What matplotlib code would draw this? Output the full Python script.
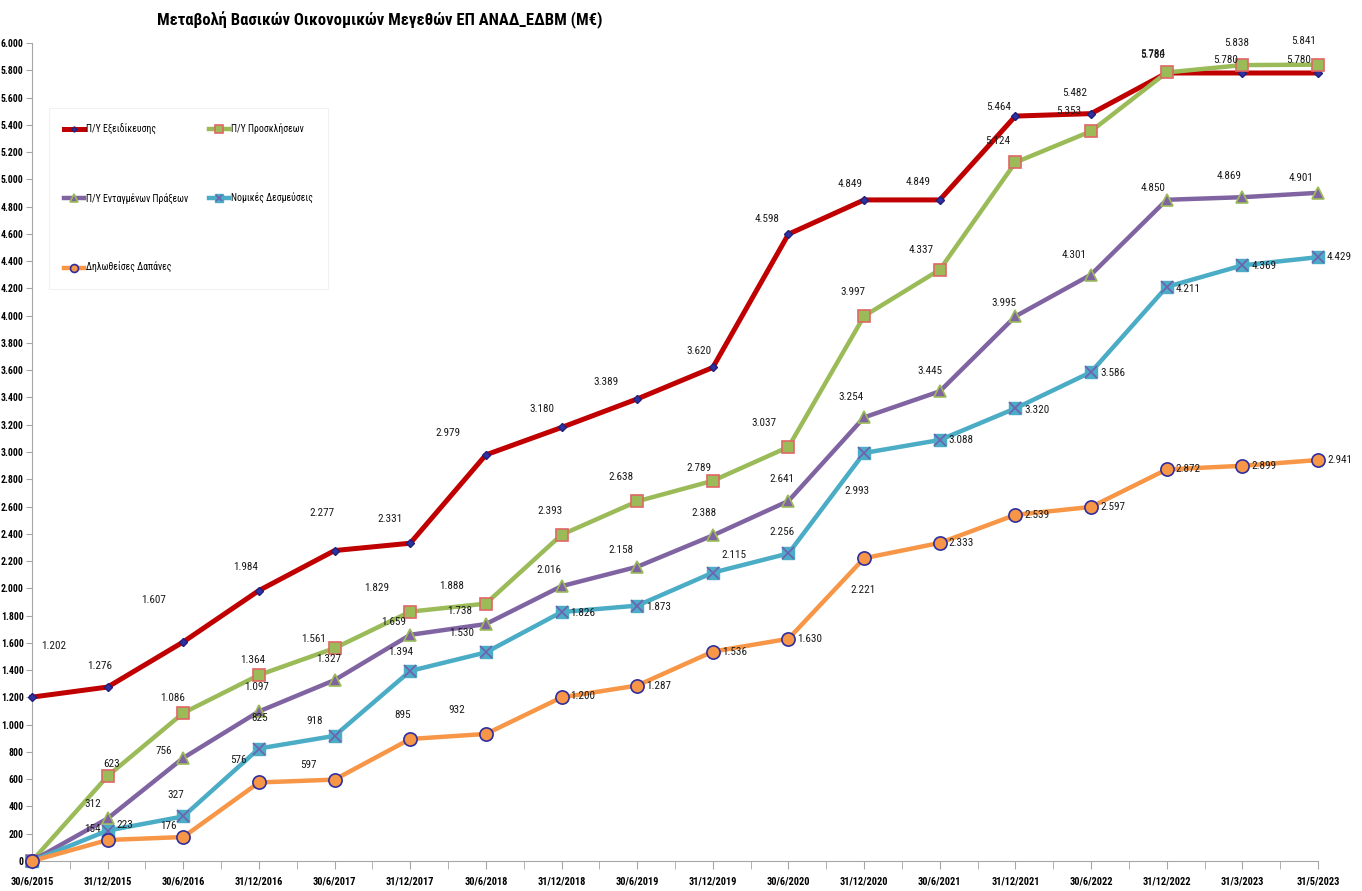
import numpy as np
import matplotlib
matplotlib.use("Agg")
from matplotlib import pyplot as plt
from matplotlib import font_manager
from matplotlib.ticker import FuncFormatter, MultipleLocator

dates = ['30/6/2015', '31/12/2015', '30/6/2016', '31/12/2016', '30/6/2017', '31/12/2017',
         '30/6/2018', '31/12/2018', '30/6/2019', '31/12/2019', '30/6/2020', '31/12/2020',
         '30/6/2021', '31/12/2021', '30/6/2022', '31/12/2022', '31/3/2023', '31/5/2023']

budget_spec = [1202, 1276, 1607, 1984, 2277, 2331, 2979, 3180, 3389, 3620, 4598, 4849,
               4849, 5464, 5482, 5780, 5780, 5780]
budget_calls = [0, 623, 1086, 1364, 1561, 1829, 1888, 2393, 2638, 2789, 3037, 3997,
                4337, 5124, 5353, 5784, 5838, 5841]
budget_ops = [0, 312, 756, 1097, 1327, 1659, 1738, 2016, 2158, 2388, 2641, 3254,
              3445, 3995, 4301, 4850, 4869, 4901]
commitments = [0, 223, 327, 825, 918, 1394, 1530, 1826, 1873, 2115, 2256, 2993,
               3088, 3320, 3586, 4211, 4369, 4429]
expenses = [0, 154, 176, 576, 597, 895, 932, 1200, 1287, 1536, 1630, 2221,
            2333, 2539, 2597, 2872, 2899, 2941]

names = ['Π/Υ Εξειδίκευσης', 'Π/Υ Προσκλήσεων', 'Π/Υ Ενταγμένων Πράξεων',
         'Νομικές Δεσμεύσεις', 'Δηλωθείσες Δαπάνες']

# label offsets in pixels (dx, dy up) - hand placed like the excel chart
offsets = {
    0: [(15, 51), (-8, 21), (-30, 42), (-13, 24), (-13, 38), (-20, 24), (-38, 22), (-20, 18),
        (-31, 17), (-14, 16), (-21, 15), (-14, 16), (-22, 18), (-17, 9), (-16, 21), (-14, 18),
        (-17, 13), (-19, 13)],
    1: [None, (4, 12), (-11, 15), (-6, 15), (-21, 9), (-34, 24), (-34, 18), (-11, 24),
        (-16, 24), (-14, 13), (-24, 24), (-11, 24), (-19, 20), (-18, 21), (-22, 20), (-14, 18),
        (-6, 22), (-14, 24)],
    2: [None, (-15, 14), (-20, 7), (-2, 24), (-6, 21), (-17, 13), (-26, 13), (-13, 16),
        (-16, 17), (-9, 22), (-7, 22), (-13, 20), (-10, 20), (-11, 13), (-17, 20), (-14, 12),
        (-13, 21), (-17, 15)],
    3: [None, (15, 6), (-7, 21), (1, 31), (-20, 15), (-10, 19), (-24, 19), (16, -1),
        (17, -1), (18, 18), (-6, 21), (-7, -38), (18, 0), (18, -2), (17, -1), (18, -2),
        (18, -1), (18, 0)],
    4: [None, (-15, 11), (-15, 11), (-21, 22), (-26, 15), (-8, 24), (-29, 24), (16, 1),
        (17, 0), (18, 0), (18, 0), (-1, -32), (18, 0), (18, 0), (17, 0), (18, 0),
        (18, 0), (18, 0)],
}

available = {f.name for f in font_manager.fontManager.ttflist}
narrow = 'DejaVu Sans'
for cand in ['Liberation Sans Narrow', 'Roboto Condensed', 'Open Sans Condensed', 'Liberation Sans']:
    if cand in available:
        narrow = cand
        break
plt.rcParams['font.family'] = [narrow, 'DejaVu Sans']


def fmt(v):
    return f"{int(v):,}".replace(",", ".")


fig = plt.figure(figsize=(13.62, 8.91), dpi=100)
ax = fig.add_axes([32 / 1362, 1 - 861 / 891, 1286 / 1362, 818 / 891])

x = np.arange(len(dates))

h_red, = ax.plot(x, budget_spec, color='#C00000', lw=3.6, marker='D', ms=4.5,
                 mfc='#3030A0', mec='#20207A', mew=1, clip_on=False, zorder=3)
h_green, = ax.plot(x, budget_calls, color='#9BBB59', lw=3.2, marker='s', ms=9,
                   mfc='#9BBB59', mec='#E06666', mew=1.2, clip_on=False, zorder=4)
h_purple, = ax.plot(x, budget_ops, color='#8064A2', lw=3.2, marker='^', ms=8.5,
                    mfc='#8064A2', mec='#9BBB59', mew=1.2, clip_on=False, zorder=5)
h_cyan, = ax.plot(x, commitments, color='#4BACC6', lw=3.2, marker='s', ms=9,
                  mfc='#4BACC6', mec='#4BACC6', mew=1, clip_on=False, zorder=6)
h_cyan_x, = ax.plot(x, commitments, ls='none', marker='x', ms=8, mec='#7060B0', mew=1.2,
                    clip_on=False, zorder=6.5)
h_orange, = ax.plot(x, expenses, color='#F79646', lw=3.2, marker='o', ms=9.5,
                    mfc='#F79646', mec='#2E2EA0', mew=1.2, clip_on=False, zorder=7)

series = [budget_spec, budget_calls, budget_ops, commitments, expenses]
for si, vals in enumerate(series):
    for i, v in enumerate(vals):
        off = offsets[si][i]
        if off is None or v == 0:
            continue
        dx, dy = off
        if dx >= 15:
            # right-hand labels: anchor on their left edge just past the marker
            ax.annotate(fmt(v), (x[i], v), xytext=(9, dy), textcoords='offset pixels',
                        ha='left', va='center', fontsize=8, color='#1A1A1A', zorder=10)
        else:
            ax.annotate(fmt(v), (x[i], v), xytext=(dx, dy), textcoords='offset pixels',
                        ha='center', va='center', fontsize=8, color='#1A1A1A', zorder=10)

ax.set_xlim(0, len(dates) - 1)
ax.set_ylim(0, 6000)
ax.yaxis.set_major_locator(MultipleLocator(200))
ax.yaxis.set_major_formatter(FuncFormatter(lambda v, p: fmt(v)))
ax.set_xticks(x)
ax.set_xticklabels(dates)
ax.set_xticks(np.arange(0.5, len(dates) - 1, 1.0), minor=True)

for side in ['top', 'right']:
    ax.spines[side].set_visible(False)
for side in ['left', 'bottom']:
    ax.spines[side].set_color('#A6A6A6')
ax.tick_params(axis='y', length=4, color='#A6A6A6', labelsize=7, pad=2)
ax.tick_params(axis='x', which='both', length=6, color='#A6A6A6', labelsize=7.5, pad=5)
for lbl in ax.get_xticklabels():
    lbl.set_fontweight('bold')
for lbl in ax.get_yticklabels():
    lbl.set_fontweight('bold')

leg = ax.legend([h_red, h_purple, h_orange, h_green, (h_cyan, h_cyan_x)],
                [names[0], names[2], names[4], names[1], names[3]],
                ncol=2, loc='upper left', bbox_to_anchor=(44 / 1362, 1 - 103 / 891),
                bbox_transform=fig.transFigure, fontsize=7, labelspacing=6.0,
                handlelength=2.0, handletextpad=0.2, columnspacing=2.2,
                borderpad=1.6, fancybox=False, edgecolor='#EEEEEE', markerscale=0.6)
leg.get_frame().set_linewidth(0.8)

fig.text(380 / 1362, 1 - 20 / 891, 'Μεταβολή Βασικών Οικονομικών Μεγεθών ΕΠ ΑΝΑΔ_ΕΔΒΜ (Μ€)',
         ha='center', va='center', fontsize=12, fontweight='bold')

fig.savefig('out.png', dpi=100)
